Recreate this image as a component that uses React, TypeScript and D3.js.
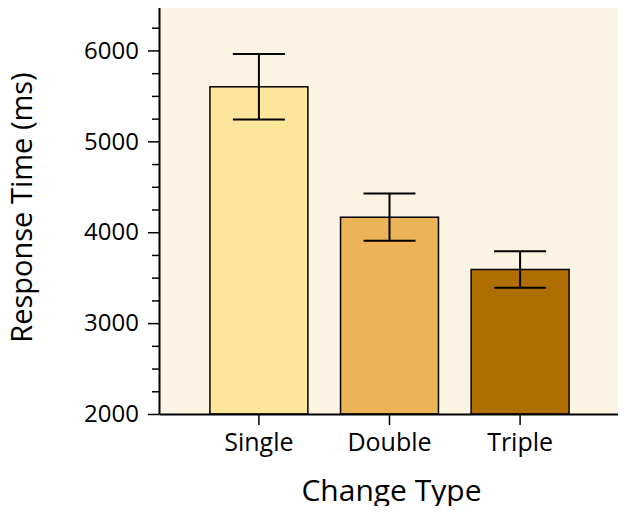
import { useEffect, useRef } from 'react';
import * as d3 from 'd3';

const WIDTH = 626;
const HEIGHT = 514;
const MARGIN = { top: 5, right: 6, bottom: 100, left: 159 };

const categories = ['Single', 'Double', 'Triple'];
const means = [5600, 4165, 3590];
const errors = [360, 260, 200];
const barColors = ['#FDE59B', '#EBB557', '#B06D00'];
const yMajorTicks = [2000, 3000, 4000, 5000, 6000];

const FONT = "'Open Sans', 'Noto Sans', sans-serif";

export default function App() {
  const axesRef = useRef<SVGGElement>(null);
  const boundsWidth = WIDTH - MARGIN.left - MARGIN.right;
  const boundsHeight = HEIGHT - MARGIN.top - MARGIN.bottom;

  const xScale = d3
    .scaleBand()
    .domain(categories)
    .range([0, boundsWidth])
    .paddingInner(0.25)
    .paddingOuter(0.39);

  const yScale = d3.scaleLinear().domain([2000, 6500]).range([boundsHeight, 0]);

  useEffect(() => {
    const g = d3.select(axesRef.current);
    g.selectAll('*').remove();

    // minor ticks every 250
    const minor = d3.range(2000, 6501, 250).filter((v) => v % 1000 !== 0);
    g.append('g')
      .call(d3.axisLeft(yScale).tickValues(minor).tickSize(7).tickFormat(() => ''))
      .call((s) => s.select('.domain').remove())
      .selectAll('line')
      .attr('stroke-width', 1.5);

    const yAxis = g
      .append('g')
      .call(
        d3
          .axisLeft(yScale)
          .tickValues(yMajorTicks)
          .tickFormat(d3.format('d'))
          .tickSize(11)
          .tickPadding(9)
          .tickSizeOuter(0)
      );
    yAxis.select('.domain').attr('stroke-width', 2);
    yAxis.selectAll('line').attr('stroke-width', 1.5);
    yAxis.selectAll('text').attr('font-size', 24).attr('font-family', FONT).attr('fill', '#000');

    const xAxis = g
      .append('g')
      .attr('transform', `translate(0,${boundsHeight})`)
      .call(d3.axisBottom(xScale).tickSize(11).tickPadding(8).tickSizeOuter(0));
    xAxis.select('.domain').attr('stroke-width', 2);
    xAxis.selectAll('line').attr('stroke-width', 1.5);
    xAxis.selectAll('text').attr('font-size', 25).attr('font-family', FONT).attr('fill', '#000');
  }, []);

  const capHalf = 26;

  return (
    <svg width={WIDTH} height={HEIGHT} style={{ display: 'block', margin: -8 }}>
      <g transform={`translate(${MARGIN.left},${MARGIN.top})`}>
        <rect x={0} y={0} width={boundsWidth} height={boundsHeight} fill="#FCF4E3" />
        {categories.map((c, i) => (
          <rect
            key={c}
            x={xScale(c)}
            y={yScale(means[i])}
            width={xScale.bandwidth()}
            height={boundsHeight - yScale(means[i])}
            fill={barColors[i]}
            stroke="#000"
            strokeWidth={1.5}
          />
        ))}
        {categories.map((c, i) => {
          const cx = (xScale(c) || 0) + xScale.bandwidth() / 2;
          const top = yScale(means[i] + errors[i]);
          const bot = yScale(means[i] - errors[i]);
          return (
            <g key={c} stroke="#000" strokeWidth={2}>
              <line x1={cx} x2={cx} y1={top} y2={bot} />
              <line x1={cx - capHalf} x2={cx + capHalf} y1={top} y2={top} />
              <line x1={cx - capHalf} x2={cx + capHalf} y1={bot} y2={bot} />
            </g>
          );
        })}
        <line x1={0} x2={boundsWidth} y1={0} y2={0} stroke="#000" strokeWidth={2} />
        <line x1={boundsWidth} x2={boundsWidth} y1={0} y2={boundsHeight} stroke="#000" strokeWidth={2} />
        <g ref={axesRef} />
        <text
          x={boundsWidth / 2 + 2}
          y={boundsHeight + 87}
          textAnchor="middle"
          fontFamily={FONT}
          fontSize={30}
        >
          Change Type
        </text>
        <text
          transform={`translate(${-127},${boundsHeight / 2 - 2}) rotate(-90)`}
          textAnchor="middle"
          fontFamily={FONT}
          fontSize={29}
        >
          Response Time (ms)
        </text>
      </g>
    </svg>
  );
}
